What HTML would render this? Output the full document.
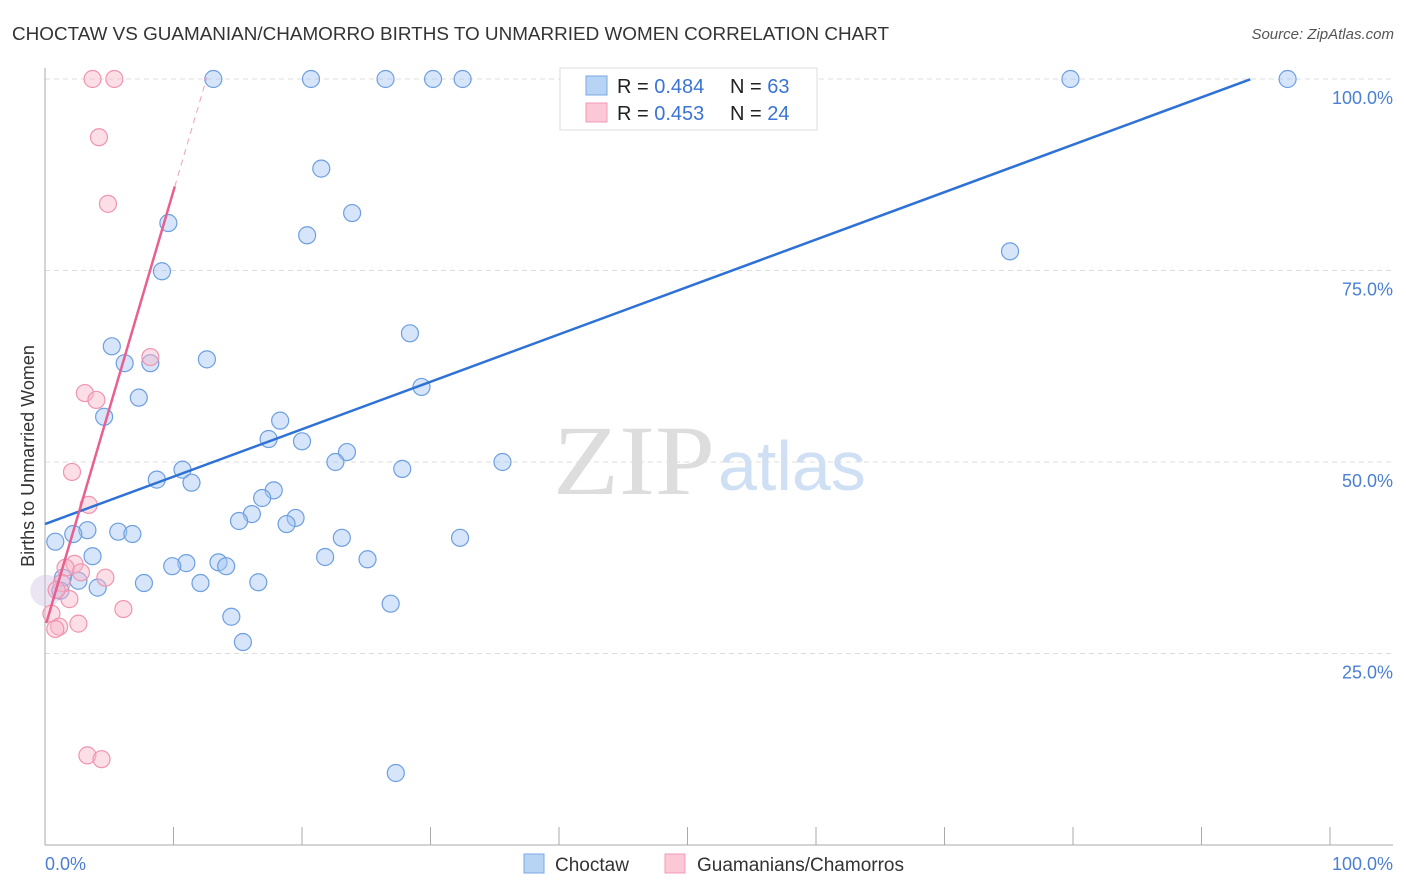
<!DOCTYPE html>
<html><head><meta charset="utf-8">
<style>
body{margin:0;background:#fff;font-family:"Liberation Sans",sans-serif}
svg{display:block}
</style></head>
<body>
<svg id="c" width="1406" height="892" xmlns="http://www.w3.org/2000/svg">
<text x="12" y="40" font-size="18" fill="#333" textLength="877" lengthAdjust="spacingAndGlyphs">CHOCTAW VS GUAMANIAN/CHAMORRO BIRTHS TO UNMARRIED WOMEN CORRELATION CHART</text>
<text x="1394" y="39" font-size="15" fill="#555" font-style="italic" text-anchor="end">Source: ZipAtlas.com</text>
<text x="553" y="494" font-size="100" font-family="Liberation Serif,serif" fill="#ddd" textLength="162" lengthAdjust="spacingAndGlyphs">ZIP</text>
<text x="718" y="490" font-size="70" fill="#cfe0f5">atlas</text>
<g id="grid"></g>
<g id="marks"></g>
<text transform="translate(34,456) rotate(-90)" font-size="18" fill="#333" text-anchor="middle">Births to Unmarried Women</text>
<text x="45" y="870" font-size="18" fill="#4a7fd4">0.0%</text>
<text x="1393" y="870" font-size="18" fill="#4a7fd4" text-anchor="end">100.0%</text>
<g>
<rect x="560" y="68" width="257" height="62" fill="#fff" stroke="#ddd"/>
<rect x="586" y="76" width="21" height="19" fill="#b8d4f5" stroke="#7aa8e4"/>
<rect x="586" y="103" width="21" height="19" fill="#fbc8d7" stroke="#f09ab5"/>
<text x="617" y="93" font-size="20" fill="#222">R = <tspan fill="#3a74d4">0.484</tspan></text>
<text x="730" y="93" font-size="20" fill="#222">N = <tspan fill="#3a74d4">63</tspan></text>
<text x="617" y="120" font-size="20" fill="#222">R = <tspan fill="#3a74d4">0.453</tspan></text>
<text x="730" y="120" font-size="20" fill="#222">N = <tspan fill="#3a74d4">24</tspan></text>
</g>
<g>
<rect x="524" y="854" width="20" height="19" fill="#b8d4f5" stroke="#7aa8e4"/>
<text x="555" y="871" font-size="19" fill="#333">Choctaw</text>
<rect x="665" y="854" width="20" height="19" fill="#fbc8d7" stroke="#f09ab5"/>
<text x="697" y="871" font-size="19" fill="#333">Guamanians/Chamorros</text>
</g>
</svg>
<script>
const yTicks=[25,50,75,100];
const yTickLabels=["25.0%","50.0%","75.0%","100.0%"];
const blueX=[13.1,20.7,26.5,30.2,32.5,79.8,96.7,21.5,23.9,9.6,20.4,9.1,75.1,28.4,5.2,6.2,8.2,12.6,29.3,7.3,4.6,18.3,17.4,20.0,23.5,22.6,35.6,10.7,27.8,8.7,11.4,17.8,16.9,16.1,19.5,15.1,18.8,3.3,2.2,5.7,6.8,23.1,32.3,0.8,3.7,21.8,25.1,11.0,9.9,13.5,14.1,1.4,2.6,7.7,12.1,16.6,4.1,26.9,14.5,15.4,27.3,1.2];
const blueY=[100,100,100,100,100,100,100,88.3,82.5,81.2,79.6,74.9,77.5,66.8,65.1,62.9,62.9,63.4,59.8,58.4,55.9,55.4,53.0,52.7,51.3,50.0,50.0,49.0,49.1,47.7,47.3,46.3,45.3,43.2,42.7,42.3,41.9,41.1,40.6,40.9,40.6,40.1,40.1,39.6,37.7,37.6,37.3,36.8,36.4,36.9,36.4,34.9,34.5,34.2,34.2,34.3,33.6,31.5,29.8,26.5,9.4,33.2];
const pinkX=[3.7,5.4,4.2,4.9,8.2,3.1,4.0,2.1,3.4,2.3,1.6,2.8,4.7,1.3,1.9,6.1,0.5,2.6,1.1,0.8,3.3,4.4,0.9];
const pinkY=[100,100,92.4,83.7,63.7,59.0,58.1,48.7,44.4,36.7,36.2,35.6,34.9,34.2,32.1,30.8,30.2,28.9,28.5,28.2,11.7,11.2,33.3];
const bigX=[0.1],bigY=[33.2];
const blueTrend=[41.9,0.619,93.8];
const pinkTrend=[28.4,5.7,10.1,12.6];
const X=v=>45+v*12.85, Y=v=>845-v*7.66;
const NS="http://www.w3.org/2000/svg";
function mk(t,a,p){const e=document.createElementNS(NS,t);for(const k in a)e.setAttribute(k,a[k]);p.appendChild(e);return e;}
const g=document.getElementById('grid'),m=document.getElementById('marks');
yTicks.forEach((t,i)=>{
 const l=mk('line',{x1:45,x2:1393,y1:Y(t),y2:Y(t),stroke:'#ddd','stroke-dasharray':'5,4'},g);
 
 
 const tx=mk('text',{x:1393,y:Y(t)+25,'font-size':18,fill:'#4a7fd4','text-anchor':'end'},g);
 tx.textContent=yTickLabels[i];
 
 
});
mk('line',{x1:45,x2:45,y1:68,y2:845,stroke:'#aaa'},g);
mk('line',{x1:45,x2:1393,y1:845,y2:845,stroke:'#aaa'},g);
for(let i=1;i<=10;i++){const t=mk('line',{x1:X(i*10),x2:X(i*10),y1:827,y2:845,stroke:'#aaa'},g);
 
 }
bigX.forEach((v,i)=>{const c=mk('circle',{cx:X(v),cy:Y(bigY[i]),r:16,fill:'rgba(205,190,225,0.4)',stroke:'none'},m);
 
 });
blueX.forEach((v,i)=>{const c=mk('circle',{cx:X(v),cy:Y(blueY[i]),r:8.5,fill:'rgba(165,198,242,0.45)',stroke:'#6d9fe0','stroke-width':1.2},m);
 
 });
pinkX.forEach((v,i)=>{const c=mk('circle',{cx:X(v),cy:Y(pinkY[i]),r:8.5,fill:'rgba(248,182,202,0.45)',stroke:'#f094b0','stroke-width':1.2},m);
 
 });
const bl=mk('line',{x1:X(0),y1:Y(blueTrend[0]),x2:X(blueTrend[2]),y2:Y(blueTrend[0]+blueTrend[1]*blueTrend[2]),stroke:'#2f72d6','stroke-width':2.5},m);


const pl=mk('line',{x1:X(0.1),y1:Y(pinkTrend[0]+pinkTrend[1]*0.1),x2:X(pinkTrend[2]),y2:Y(pinkTrend[0]+pinkTrend[1]*pinkTrend[2]),stroke:'#e8608f','stroke-width':2.5},m);


const pd=mk('line',{x1:X(pinkTrend[2]),y1:Y(pinkTrend[0]+pinkTrend[1]*pinkTrend[2]),x2:X(pinkTrend[3]),y2:Y(pinkTrend[0]+pinkTrend[1]*pinkTrend[3]),stroke:'#f0a0bb','stroke-width':1,'stroke-dasharray':'6,5'},m);


</script>
</body></html>
